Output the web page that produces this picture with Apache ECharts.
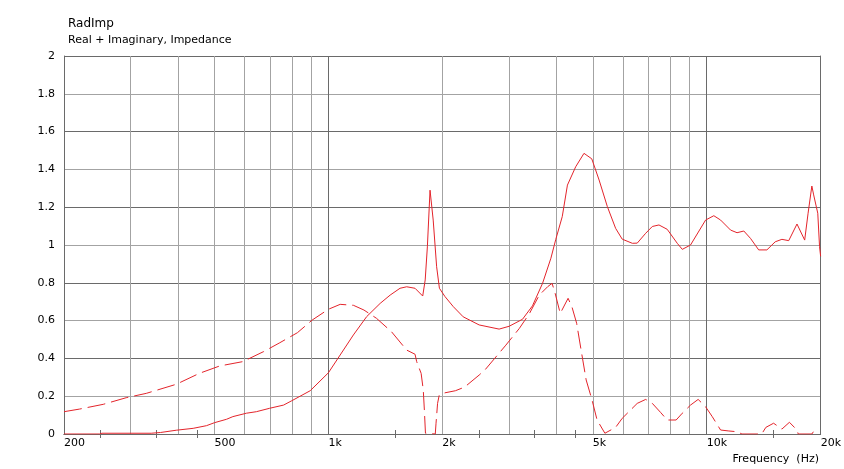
<!DOCTYPE html>
<html><head><meta charset="utf-8">
<script src="https://cdn.jsdelivr.net/npm/echarts@6/dist/echarts.min.js"></script>
<style>html,body{margin:0;padding:0;background:#fff}#c{width:844px;height:469px}</style>
</head><body><div id="c"></div>
<script>
const realFreq = [200,248,252,340,360,396,439,476,500,538,559,607,645,699,761,800,895,1000,1074,1164,1262,1370,1456,1546,1610,1694,1775,1802,1826,1856,1892,1932,1965,2033,2138,2271,2503,2826,3004,3258,3462,3681,3873,3990,4150,4283,4504,4737,4967,5193,5461,5743,5978,6358,6550,6896,7180,7477,7861,8357,8618,9060,9930,10441,10880,11560,12024,12531,13050,13719,14420,15170,15800,16470,17320,18150,18530,18960,19170,19655,19870,20000];
const realVal  = [0,0,0.004,0.004,0.008,0.02,0.03,0.044,0.06,0.078,0.092,0.11,0.118,0.136,0.153,0.176,0.229,0.324,0.418,0.524,0.621,0.691,0.735,0.771,0.779,0.771,0.73,0.815,0.99,1.29,1.132,0.885,0.771,0.727,0.674,0.62,0.577,0.555,0.57,0.607,0.678,0.797,0.93,1.03,1.15,1.317,1.414,1.485,1.456,1.344,1.203,1.088,1.031,1.009,1.01,1.062,1.098,1.106,1.083,1.009,0.977,1.0,1.132,1.155,1.132,1.079,1.065,1.074,1.035,0.974,0.974,1.017,1.03,1.023,1.111,1.026,1.168,1.312,1.265,1.168,0.991,0.94];
const imagFreq = [200,220,254,292,330,396,456,516,594,674,744,828,906,1000,1074,1164,1241,1340,1468,1610,1694,1711,1758,1781,1793,1805,1916,1925,1943,1963,2033,2166,2290,2503,2600,2826,2944,3197,3400,3609,3800,3900,3964,4100,4300,4400,4530,4670,4800,4975,5130,5380,5743,5978,6550,6896,7180,7560,7861,8300,8618,9060,9490,9930,10340,10880,11440,12020,12390,13970,14330,15020,15800,16540,17320,17450,18960,19170,19400];
const imagVal  = [0.118,0.132,0.157,0.192,0.215,0.263,0.321,0.36,0.383,0.436,0.483,0.536,0.603,0.66,0.686,0.681,0.656,0.612,0.541,0.444,0.422,0.383,0.321,0.233,0.127,0.004,0,0.057,0.162,0.206,0.218,0.229,0.248,0.312,0.342,0.428,0.47,0.559,0.638,0.735,0.78,0.797,0.753,0.638,0.718,0.674,0.586,0.427,0.286,0.18,0.074,0.004,0.035,0.083,0.162,0.183,0.162,0.113,0.074,0.074,0.11,0.153,0.183,0.144,0.092,0.021,0.016,0.012,0,0,0.035,0.057,0.026,0.062,0.021,0,0,0.014,0];
const xLabelValues = [200,500,1000,2000,5000,10000,20000];
const xLabelText = ['200','500','1k','2k','5k','10k','20k'];
const minorTickValues = [250,350,450,1500,2500,3500,4500,15000];
const lightGridValues = [300,400,500,600,700,800,900,2000,3000,4000,5000,6000,7000,8000,9000];
const darkGridValues = [1000,10000];

const FONT = 'DejaVu Sans';
const RED = '#e3242b';
const DARK = '#6a6a6a';
const LIGHT = '#a3a3a3';

function logAxis(extra) {
  return Object.assign({
    type: 'log', logBase: 10, min: 200, max: 20000, gridIndex: 0,
    axisLine: {show: false}, axisTick: {show: false}, axisLabel: {show: false},
    splitLine: {show: false}, silent: true
  }, extra);
}

const chart = echarts.init(document.getElementById('c'), null, {renderer: 'canvas'});
chart.setOption({
  animation: false,
  backgroundColor: '#fff',
  textStyle: {fontFamily: FONT},
  title: [
    {text: 'RadImp', left: 63, top: 13, textStyle: {fontFamily: FONT, fontSize: 12, fontWeight: 'normal', color: '#000'}},
    {text: 'Real + Imaginary, Impedance', left: 63, top: 30, textStyle: {fontFamily: FONT, fontSize: 11, fontWeight: 'normal', color: '#000'}},
    {text: 'Frequency  (Hz)', right: 20, top: 449, textStyle: {fontFamily: FONT, fontSize: 11, fontWeight: 'normal', color: '#000'}}
  ],
  grid: {left: 64, right: 22, top: 56, bottom: 35, containLabel: false},
  xAxis: [
    logAxis({
      position: 'bottom',
      axisLine: {show: true, lineStyle: {color: DARK, width: 1}},
      axisTick: {show: true, inside: true, length: 4, customValues: minorTickValues, lineStyle: {color: DARK}},
      axisLabel: {show: true, customValues: xLabelValues, align: 'left', margin: 4, fontSize: 11, color: '#000', fontFamily: FONT,
        formatter: v => { const i = xLabelValues.findIndex(x => Math.abs(x - v) < 1e-6 * x); return i >= 0 ? xLabelText[i] : ''; }}
    }),
    logAxis({
      position: 'top',
      axisLine: {show: true, lineStyle: {color: DARK, width: 1}},
      axisTick: {show: true, inside: true, length: 4, customValues: minorTickValues, lineStyle: {color: DARK}}
    }),
    logAxis({
      position: 'bottom',
      axisTick: {show: false, customValues: lightGridValues},
      splitLine: {show: true, lineStyle: {color: LIGHT, width: 1}}
    }),
    logAxis({
      position: 'top',
      axisTick: {show: false, customValues: darkGridValues},
      splitLine: {show: true, lineStyle: {color: DARK, width: 1}}
    })
  ],
  yAxis: [
    {type: 'value', position: 'left', min: 0, max: 2, interval: 0.2,
     axisLine: {show: true, lineStyle: {color: DARK, width: 1}},
     axisTick: {show: false},
     axisLabel: {fontSize: 11, color: '#000', margin: 9, fontFamily: FONT},
     splitLine: {show: true, lineStyle: {color: [DARK, LIGHT], width: 1}}},
    {type: 'value', position: 'right', min: 0, max: 2, interval: 0.2,
     axisLine: {show: true, lineStyle: {color: DARK, width: 1}},
     axisTick: {show: false}, axisLabel: {show: false}, splitLine: {show: false}}
  ],
  series: [
    {name: 'Real', type: 'line', xAxisIndex: 0, yAxisIndex: 0, showSymbol: false, symbol: 'none',
     lineStyle: {color: RED, width: 1}, data: realFreq.map((f, i) => [f, realVal[i]]), z: 5},
    {name: 'Imaginary', type: 'line', xAxisIndex: 0, yAxisIndex: 0, showSymbol: false, symbol: 'none',
     lineStyle: {color: RED, width: 1, type: [18, 6]}, data: imagFreq.map((f, i) => [f, imagVal[i]]), z: 5}
  ]
});
</script></body></html>
